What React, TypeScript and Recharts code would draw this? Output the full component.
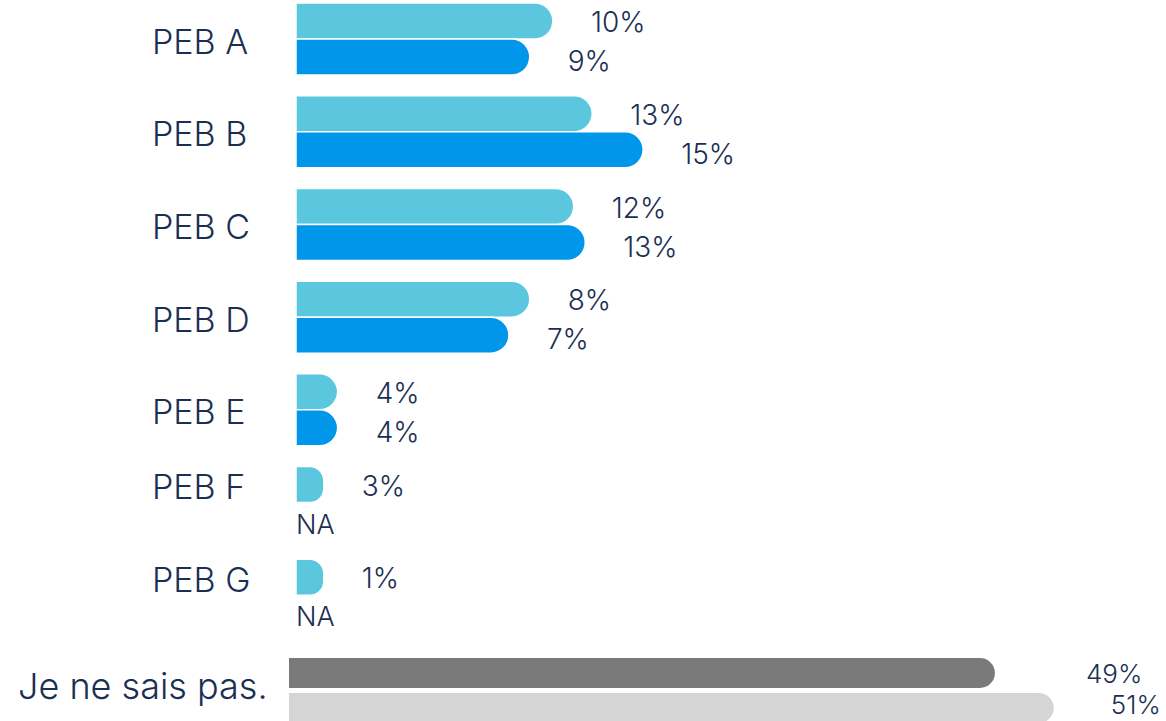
import React from 'react';
import { BarChart, Bar, XAxis, YAxis, LabelList } from 'recharts';

// ---- data ----
const categories = ['PEB A', 'PEB B', 'PEB C', 'PEB D', 'PEB E', 'PEB F', 'PEB G'];
// printed percentages next to the bars
const labelsSeries1 = ['10%', '13%', '12%', '8%', '4%', '3%', '1%'];
const labelsSeries2: (string | null)[] = ['9%', '15%', '13%', '7%', '4%', null, null];
// drawn bar lengths (the source bars are not drawn to scale), in axis units
const barsSeries1 = [11.1, 12.8, 12.0, 10.1, 1.8, 1.2, 1.2];
const barsSeries2: (number | null)[] = [10.1, 15.0, 12.5, 9.2, 1.8, null, null];

const unknownCategory = 'Je ne sais pas.';
const unknownValues = [49, 51];
const unknownLabels = ['49%', '51%'];

// ---- styles ----
const FONT = 'Inter, Lato, "Open Sans", sans-serif';
const WEIGHT = 300;
const NAVY = '#1B2F53';
const CYAN = '#5AC7DF';
const BLUE = '#0097EB';
const DARK_GREY = '#7A7A7A';
const LIGHT_GREY = '#D5D5D5';

const topData = categories.map((name, i) => ({
  name,
  b1: barsSeries1[i],
  b2: barsSeries2[i],
  l1: labelsSeries1[i],
  l2: labelsSeries2[i],
}));

const bottomData = [
  {
    name: unknownCategory,
    v1: unknownValues[0],
    v2: unknownValues[1],
    l1: unknownLabels[0],
    l2: unknownLabels[1],
  },
];

const TopTick = (props: any) => {
  const { y, payload } = props;
  const idx = payload?.index ?? categories.indexOf(payload?.value);
  const hasNA = barsSeries2[idx] == null;
  return (
    <g>
      <text
        x={152}
        y={y + (hasNA ? -16 : 2)}
        dy="0.36em"
        textAnchor="start"
        fill={NAVY}
        fontFamily={FONT}
        fontWeight={WEIGHT}
        fontSize={34}
      >
        {payload.value}
      </text>
      {hasNA && (
        <text
          x={296}
          y={y + 21}
          dy="0.36em"
          textAnchor="start"
          fill={NAVY}
          fontFamily={FONT}
          fontWeight={WEIGHT}
          fontSize={27}
        >
          NA
        </text>
      )}
    </g>
  );
};

const BottomTick = (props: any) => {
  const { y, payload } = props;
  return (
    <text
      x={18}
      y={y - 4}
      dy="0.36em"
      textAnchor="start"
      fill={NAVY}
      fontFamily={FONT}
      fontWeight={WEIGHT}
      fontSize={36}
    >
      {payload.value}
    </text>
  );
};

const makeLabel = (gap: number, shiftY: number, size = 28) => (props: any) => {
  const { x, y, width, height, value } = props;
  if (value == null || value === '') return null;
  const nx = Number(x) + Number(width) + gap;
  const ny = Number(y) + Number(height) / 2 + shiftY;
  return (
    <text
      x={nx}
      y={ny}
      dy="0.36em"
      textAnchor="start"
      fill={NAVY}
      fontFamily={FONT}
      fontWeight={WEIGHT}
      fontSize={size}
    >
      {value}
    </text>
  );
};

export default function App() {
  return (
    <div
      style={{
        position: 'absolute',
        left: 0,
        top: 0,
        width: 1166,
        height: 721,
        overflow: 'hidden',
        background: '#fff',
      }}
    >
      <div style={{ position: 'absolute', left: 0, top: -7 }}>
        <BarChart
          layout="vertical"
          width={1166}
          height={649}
          data={topData}
          margin={{ top: 0, right: 60, bottom: 0, left: 0 }}
          barGap={0}
          barSize={36}
          barCategoryGap={0}
        >
          <XAxis type="number" domain={[0, 35]} hide />
          <YAxis
            type="category"
            dataKey="name"
            width={296}
            axisLine={false}
            tickLine={false}
            tickSize={0}
            interval={0}
            tick={(p: any) => <TopTick {...p} />}
          />
          <Bar
            dataKey="b1"
            fill={CYAN}
            stroke="#ffffff"
            strokeWidth={1.5}
            radius={[0, 18, 18, 0]}
            isAnimationActive={false}
          >
            <LabelList dataKey="l1" content={makeLabel(38, 1)} />
          </Bar>
          <Bar
            dataKey="b2"
            fill={BLUE}
            stroke="#ffffff"
            strokeWidth={1.5}
            radius={[0, 18, 18, 0]}
            isAnimationActive={false}
          >
            <LabelList dataKey="l2" content={makeLabel(38, 4)} />
          </Bar>
        </BarChart>
      </div>
      <div style={{ position: 'absolute', left: 0, top: 640 }}>
        <BarChart
          layout="vertical"
          width={1166}
          height={100}
          data={bottomData}
          margin={{ top: 10, right: 24, bottom: 10, left: 0 }}
          barGap={5}
          barSize={30}
        >
          <XAxis type="number" domain={[25, 54]} hide />
          <YAxis
            type="category"
            dataKey="name"
            width={289}
            axisLine={false}
            tickLine={false}
            tickSize={0}
            interval={0}
            tick={(p: any) => <BottomTick {...p} />}
          />
          <Bar dataKey="v1" fill={DARK_GREY} radius={[0, 15, 15, 0]} isAnimationActive={false}>
            <LabelList dataKey="l1" content={makeLabel(91, 1, 26)} />
          </Bar>
          <Bar dataKey="v2" fill={LIGHT_GREY} radius={[0, 15, 15, 0]} isAnimationActive={false}>
            <LabelList dataKey="l2" content={makeLabel(57, -3, 26)} />
          </Bar>
        </BarChart>
      </div>
    </div>
  );
}
